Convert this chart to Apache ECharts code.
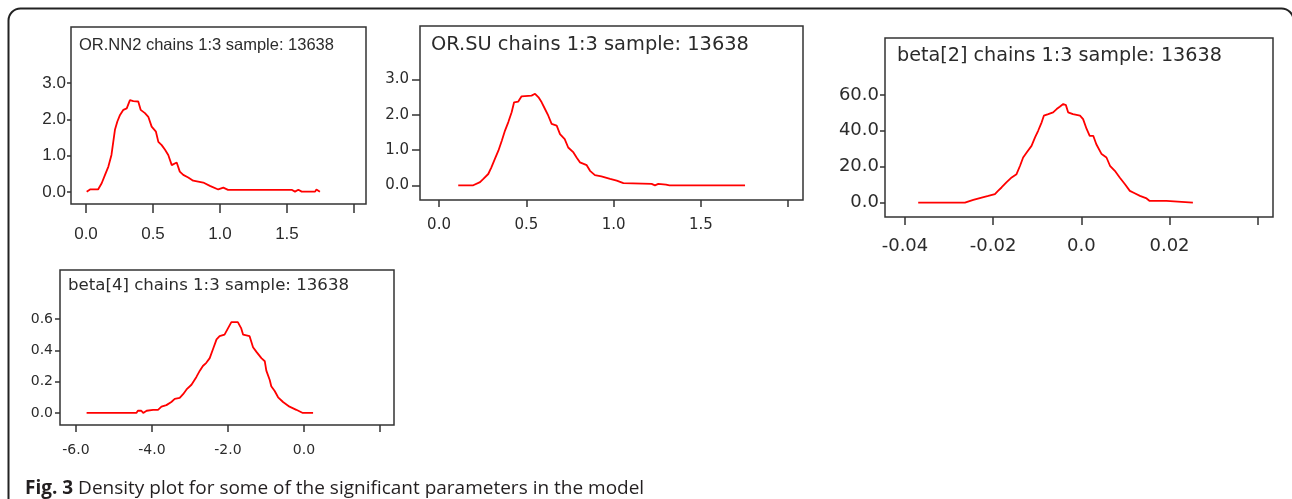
<!DOCTYPE html>
<html>
<head>
<meta charset="utf-8">
<script src="https://cdn.jsdelivr.net/npm/echarts@6/dist/echarts.min.js"></script>
<style>
html,body{margin:0;padding:0;background:#fff;}
#chart{width:1292px;height:499px;}
</style>
</head>
<body>
<div id="chart"></div>
<script>
// ---- data ----
const titles = [
  'OR.NN2 chains 1:3 sample: 13638',
  'OR.SU chains 1:3 sample: 13638',
  'beta[2] chains 1:3 sample: 13638',
  'beta[4] chains 1:3 sample: 13638'
];
const caption = 'Density plot for some of the significant parameters in the model';

const densOrNN2 = [[0.005,0.01],[0.03,0.07],[0.09,0.07],[0.117,0.24],[0.142,0.47],[0.167,0.70],[0.19,1.02],[0.216,1.71],[0.234,1.94],[0.254,2.12],[0.279,2.26],[0.304,2.30],[0.328,2.53],[0.353,2.50],[0.39,2.49],[0.408,2.26],[0.44,2.17],[0.465,2.07],[0.49,1.80],[0.522,1.66],[0.54,1.38],[0.565,1.29],[0.59,1.16],[0.614,1.02],[0.64,0.74],[0.677,0.81],[0.70,0.56],[0.726,0.47],[0.763,0.40],[0.80,0.31],[0.875,0.26],[0.925,0.17],[0.987,0.07],[1.025,0.12],[1.06,0.06],[1.25,0.06],[1.26,0.01],[1.27,0.06],[1.46,0.06],[1.47,0.01],[1.49,0.06],[1.535,0.06],[1.56,0.01],[1.585,0.06],[1.61,0.01],[1.71,0.01],[1.72,0.07],[1.746,0.01]];

const densOrSU = [[0.11,0.0],[0.196,0.0],[0.206,0.05],[0.235,0.09],[0.254,0.18],[0.282,0.32],[0.30,0.51],[0.32,0.75],[0.34,0.98],[0.36,1.27],[0.378,1.55],[0.397,1.79],[0.416,2.07],[0.43,2.35],[0.454,2.37],[0.473,2.52],[0.53,2.54],[0.55,2.59],[0.57,2.49],[0.588,2.35],[0.607,2.16],[0.626,1.97],[0.645,1.74],[0.674,1.69],[0.693,1.45],[0.72,1.31],[0.74,1.07],[0.77,0.93],[0.788,0.79],[0.807,0.65],[0.846,0.57],[0.865,0.41],[0.893,0.29],[0.93,0.25],[0.98,0.18],[1.018,0.13],[1.056,0.06],[1.218,0.04],[1.237,0.0],[1.256,0.04],[1.30,0.02],[1.32,0.0],[1.753,0.0]];

const densBeta2 = [[-0.037,0],[-0.0264,0],[-0.026,0.9],[-0.0245,1.5],[-0.0241,2.3],[-0.0226,2.8],[-0.0211,3.7],[-0.0196,4.7],[-0.0189,6.5],[-0.0181,8.4],[-0.017,11.2],[-0.0158,14.0],[-0.0147,15.8],[-0.0139,20.5],[-0.0132,25.1],[-0.0124,27.9],[-0.0113,31.6],[-0.0105,36.3],[-0.0098,40.0],[-0.009,44.7],[-0.0085,48.4],[-0.0075,49.3],[-0.0064,50.3],[-0.0056,52.1],[-0.0049,53.4],[-0.0041,54.9],[-0.0035,54.3],[-0.003,50.3],[-0.0019,49.3],[-0.0003,48.4],[0.0004,46.5],[0.0012,41.0],[0.0019,37.2],[0.0027,37.2],[0.0034,32.5],[0.0046,27.0],[0.0057,25.1],[0.0065,20.5],[0.0076,17.7],[0.0087,14.0],[0.0099,10.2],[0.011,6.5],[0.0121,5.2],[0.0133,3.7],[0.0148,2.3],[0.0155,0.9],[0.0193,0.9],[0.0197,0],[0.0253,0]];

const densBeta4 = [[-5.72,0],[-4.41,0],[-4.37,0.014],[-4.28,0.014],[-4.23,0],[-4.14,0.014],[-3.97,0.02],[-3.93,0.027],[-3.84,0.02],[-3.75,0.04],[-3.62,0.05],[-3.49,0.07],[-3.40,0.09],[-3.27,0.096],[-3.18,0.12],[-3.09,0.15],[-2.96,0.18],[-2.83,0.23],[-2.74,0.27],[-2.66,0.30],[-2.57,0.32],[-2.48,0.35],[-2.39,0.41],[-2.30,0.47],[-2.22,0.49],[-2.09,0.50],[-2.0,0.54],[-1.91,0.58],[-1.74,0.58],[-1.65,0.54],[-1.60,0.50],[-1.43,0.49],[-1.34,0.42],[-1.25,0.39],[-1.12,0.35],[-1.03,0.33],[-0.99,0.27],[-0.90,0.21],[-0.86,0.17],[-0.77,0.14],[-0.68,0.10],[-0.55,0.07],[-0.38,0.04],[-0.20,0.02],[-0.03,0],[0.24,0]];

// tick values and labels
const xTicks1 = [0, 0.5, 1, 1.5, 2];      const xLabels1 = ['0.0','0.5','1.0','1.5'];
const yTicks1 = [0, 1, 2, 3];             const yLabels1 = ['0.0','1.0','2.0','3.0'];
const xTicks2 = [0, 0.5, 1, 1.5, 2];      const xLabels2 = ['0.0','0.5','1.0','1.5'];
const yTicks2 = [0, 1, 2, 3];             const yLabels2 = ['0.0','1.0','2.0','3.0'];
const xTicks3 = [-0.04, -0.02, 0, 0.02, 0.04]; const xLabels3 = ['-0.04','-0.02','0.0','0.02'];
const yTicks3 = [0, 20, 40, 60];          const yLabels3 = ['0.0','20.0','40.0','60.0'];
const xTicks4 = [-6, -4, -2, 0, 2];       const xLabels4 = ['-6.0','-4.0','-2.0','0.0'];
const yTicks4 = [0, 0.2, 0.4, 0.6];       const yLabels4 = ['0.0','0.2','0.4','0.6'];

// ---- layout ----
const panels = [
  {data: densOrNN2, grid:{left:71, top:27, width:295, height:177}, xr:[-0.112, 2.09], yr:[-0.33, 4.54],
   xt:xTicks1, xl:xLabels1, yt:yTicks1, yl:yLabels1, font:'Liberation Sans', fs:17, tfs:16.5,
   xm:22, ym:5, ytl:4, xtl:9, title:{left:79, cy:45}},
  {data: densOrSU, grid:{left:420, top:26, width:383, height:174}, xr:[-0.109, 2.085], yr:[-0.416, 4.51],
   xt:xTicks2, xl:xLabels2, yt:yTicks2, yl:yLabels2, font:'DejaVu Sans', fs:15, tfs:19.4,
   xm:18, ym:11, ytl:8, xtl:7, title:{left:431, cy:45}},
  {data: densBeta2, grid:{left:885, top:38, width:388, height:179}, xr:[-0.04453, 0.04347], yr:[-8.05, 91.7],
   xt:xTicks3, xl:xLabels3, yt:yTicks3, yl:yLabels3, font:'DejaVu Sans', fs:18, tfs:19.2,
   xm:20, ym:6, ytl:5, xtl:8, title:{left:897, cy:56}},
  {data: densBeta4, grid:{left:60, top:270, width:334, height:155}, xr:[-6.42, 2.37], yr:[-0.077, 0.913],
   xt:xTicks4, xl:xLabels4, yt:yTicks4, yl:yLabels4, font:'DejaVu Sans', fs:14, tfs:16.6,
   xm:18, ym:7, ytl:5, xtl:7, title:{left:68, cy:286}}
];

const textColor = '#2b2b2b';
const boxColor = '#333';

function fmt(ticks, labels) {
  return function (v) {
    for (let i = 0; i < ticks.length; i++) {
      if (Math.abs(ticks[i] - v) < 1e-9) return labels[i] || '';
    }
    return '';
  };
}

const option = {
  animation: false,
  backgroundColor: '#fff',
  title: [],
  grid: [],
  xAxis: [],
  yAxis: [],
  series: [],
  graphic: [{
    type: 'rect',
    shape: {x: 8.5, y: 8.5, width: 1285, height: 530, r: 12},
    style: {fill: 'none', stroke: '#222', lineWidth: 2},
    silent: true
  }]
};

panels.forEach((p, i) => {
  option.grid.push(Object.assign({show: true, borderColor: boxColor, borderWidth: 1.5, backgroundColor: '#fff'}, p.grid));
  option.xAxis.push({
    type: 'value', gridIndex: i, min: p.xr[0], max: p.xr[1], position: 'bottom',
    axisLine: {show: false, onZero: false}, splitLine: {show: false},
    axisTick: {show: true, length: p.xtl, customValues: p.xt, lineStyle: {color: boxColor, width: 1.5}},
    axisLabel: {customValues: p.xt.slice(0, p.xl.length), formatter: fmt(p.xt, p.xl), margin: p.xm,
      color: textColor, fontFamily: p.font, fontSize: p.fs, showMinLabel: true, showMaxLabel: true}
  });
  option.yAxis.push({
    type: 'value', gridIndex: i, min: p.yr[0], max: p.yr[1], position: 'left',
    axisLine: {show: false, onZero: false}, splitLine: {show: false},
    axisTick: {show: true, length: p.ytl, customValues: p.yt, lineStyle: {color: boxColor, width: 1.5}},
    axisLabel: {customValues: p.yt, formatter: fmt(p.yt, p.yl), margin: p.ym,
      color: textColor, fontFamily: p.font, fontSize: p.fs, showMinLabel: true, showMaxLabel: true}
  });
  option.series.push({
    type: 'line', xAxisIndex: i, yAxisIndex: i, data: p.data,
    showSymbol: false, symbol: 'none', smooth: false,
    lineStyle: {color: '#ff0000', width: 1.8}, silent: true
  });
  option.title.push({
    text: titles[i], left: p.title.left, top: p.title.cy - p.tfs / 2, padding: 0,
    textStyle: {fontFamily: p.font, fontSize: p.tfs, lineHeight: p.tfs, fontWeight: 'normal', color: textColor}
  });
});

option.title.push({
  text: '{b|Fig. 3} ' + caption,
  left: 25, top: 478, padding: 0,
  textStyle: {
    fontFamily: 'Open Sans', fontSize: 19, lineHeight: 22, fontWeight: 'normal', color: '#231f20',
    rich: {b: {fontFamily: 'Open Sans', fontSize: 19, lineHeight: 22, fontWeight: 'bold', color: '#231f20'}}
  }
});

const chart = echarts.init(document.getElementById('chart'), null, {renderer: 'canvas'});
chart.setOption(option);
</script>
</body>
</html>
